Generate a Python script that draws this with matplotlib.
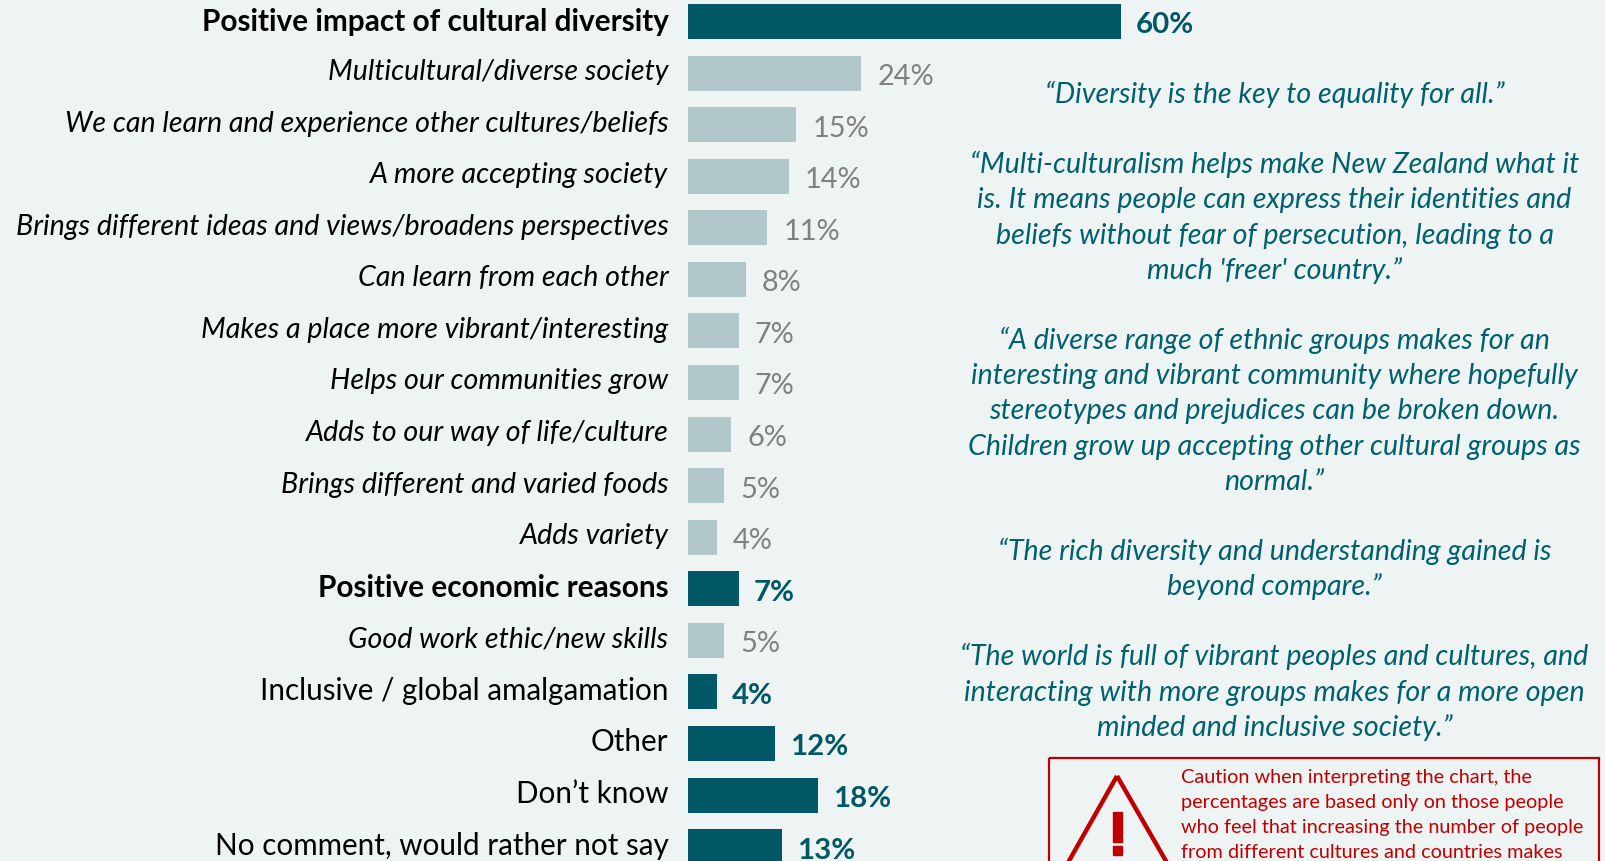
import matplotlib.pyplot as plt
from matplotlib.patches import Polygon, Rectangle

plt.rcParams['font.family'] = ['Lato', 'DejaVu Sans']

labels = ['Positive impact of cultural diversity', 'Multicultural/diverse society',
          'We can learn and experience other cultures/beliefs', 'A more accepting society',
          'Brings different ideas and views/broadens perspectives', 'Can learn from each other',
          'Makes a place more vibrant/interesting', 'Helps our communities grow',
          'Adds to our way of life/culture', 'Brings different and varied foods', 'Adds variety',
          'Positive economic reasons', 'Good work ethic/new skills',
          'Inclusive / global amalgamation', 'Other', 'Don\u2019t know',
          'No comment, would rather not say']
values = [60, 24, 15, 14, 11, 8, 7, 7, 6, 5, 4, 7, 5, 4, 12, 18, 13]
kinds = ['head', 'sub', 'sub', 'sub', 'sub', 'sub', 'sub', 'sub', 'sub', 'sub', 'sub',
         'head', 'sub', 'plain', 'plain', 'plain', 'plain']

quotes = ['\u201cDiversity is the key to equality for all.\u201d', '',
          '\u201cMulti-culturalism helps make New Zealand what it',
          'is. It means people can express their identities and',
          'beliefs without fear of persecution, leading to a',
          'much \'freer\' country.\u201d', '',
          '\u201cA diverse range of ethnic groups makes for an',
          'interesting and vibrant community where hopefully',
          'stereotypes and prejudices can be broken down.',
          'Children grow up accepting other cultural groups as',
          'normal.\u201d', '',
          '\u201cThe rich diversity and understanding gained is',
          'beyond compare.\u201d', '',
          '\u201cThe world is full of vibrant peoples and cultures, and',
          'interacting with more groups makes for a more open',
          'minded and inclusive society.\u201d']

caution = ['Caution when interpreting the chart, the',
           'percentages are based only on those people',
           'who feel that increasing the number of people',
           'from different cultures and countries makes']

BG = '#EEF4F4'
DARK = '#005867'
LIGHT = '#B0C8CA'
GREY = '#808080'
RED = '#C00000'
W, H = 1605, 861
PER_PCT = 7.217   # bar length in px for one percent
PITCH = 51.57     # px between rows

label_size = {'head': 21.4, 'sub': 20.6, 'plain': 21.3}
label_drop = {'head': -8, 'sub': -7, 'plain': -8}

fig = plt.figure(figsize=(W / 100, H / 100), dpi=100, facecolor=BG)

# bars, row 0 at the top
ax = fig.add_axes([688 / W, 0, (W - 688) / W, 1])
ax.set_xlim(0, (W - 688) / PER_PCT)
ax.set_ylim((H - 21.5) / PITCH, -21.5 / PITCH)
ax.axis('off')
rows = list(range(len(values)))
colors = [LIGHT if k == 'sub' else DARK for k in kinds]
ax.barh(rows, values, height=35 / PITCH, color=colors)

for i in rows:
    kind = kinds[i]
    style = 'italic' if kind == 'sub' else 'normal'
    weight = 'bold' if kind == 'head' else 'normal'
    # the top heading sits a little lower than the other row labels
    drop = -10 if i == 0 else label_drop[kind]
    ax.annotate(labels[i], (0, i), xytext=(-19.5, drop), textcoords='offset pixels',
                ha='right', va='baseline', fontsize=label_size[kind], fontstyle=style,
                fontweight=weight, color='black')
    ax.annotate('%d%%' % values[i], (values[i], i), xytext=(16 if kind == 'sub' else 15, -12),
                textcoords='offset pixels', ha='left', va='baseline',
                fontsize=20.8 if kind == 'sub' else 21.2,
                fontweight='normal' if kind == 'sub' else 'bold',
                color=GREY if kind == 'sub' else DARK)

# overlay in pixel units for the quotes and the warning box
over = fig.add_axes([0, 0, 1, 1])
over.set_xlim(0, W)
over.set_ylim(H, 0)
over.axis('off')
over.patch.set_alpha(0)

for i, line in enumerate(quotes):
    over.text(1274.5, 103 + i * 35.15, line, ha='center', va='baseline', fontsize=20.6,
              fontstyle='italic', color='#00606E')

over.add_patch(Rectangle((1049, 758), 550, 130, fill=False, edgecolor=RED, linewidth=1.6))
over.add_patch(Polygon([(1117, 776), (1065, 868), (1170, 868)], closed=True, fill=False,
                       edgecolor=RED, linewidth=3.2))
over.add_patch(Rectangle((1112.5, 812), 9, 30, color=RED))
over.add_patch(Rectangle((1112.5, 846), 9, 9, color=RED))

for i, line in enumerate(caution):
    over.text(1181, 782.5 + i * 25.3, line, ha='left', va='baseline', fontsize=14.3, color=RED)

fig.savefig('out.png', dpi=100, facecolor=BG)
